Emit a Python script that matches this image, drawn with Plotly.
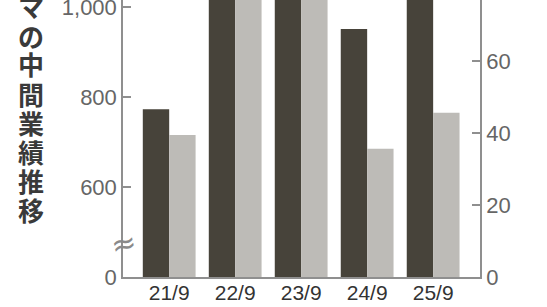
import plotly.graph_objects as go

categories = ["21/9", "22/9", "23/9", "24/9", "25/9"]
dark_values = [773, 1120, 1150, 951, 1180]      # left axis (broken scale)
gray_values = [39.4, 90, 92, 35.6, 45.6]        # right axis

left_tickvals = [400, 600, 800, 1000]
left_ticktext = ["0", "600", "800", "1,000"]
right_tickvals = [0, 20, 40, 60]
right_ticktext = ["0", "20", "40", "60"]

title_chars = list("マの中間業績推移")

W, H = 547, 307
L, R, T, B = 123, 67, 0, 30
PW, PH = W - L - R, H - T - B

NUM_FONT = "Liberation Sans Narrow, Liberation Sans, Arial, sans-serif"
AXIS_COLOR = "#8f8f8f"

fig = go.Figure()
fig.add_trace(go.Bar(
    x=categories, y=dark_values, yaxis="y",
    marker=dict(color="#47433a", line=dict(width=0)),
    width=0.4, offset=-0.4, showlegend=False,
))
fig.add_trace(go.Bar(
    x=categories, y=gray_values, yaxis="y2",
    marker=dict(color="#bdbbb7", line=dict(width=0)),
    width=0.4, offset=0.0, showlegend=False,
))

annotations = []
for i, ch in enumerate(title_chars):
    ypx = 6 + 29 * i
    annotations.append(dict(
        text=ch, xref="paper", yref="paper",
        x=(31 - L) / PW, y=(T + PH - ypx) / PH,
        xanchor="center", yanchor="middle", showarrow=False,
        font=dict(family="Noto Sans CJK JP", size=26, color="#3a3a3a", weight="bold"),
    ))
annotations.append(dict(
    text="≈", xref="paper", yref="paper", x=0, y=(T + PH - 243) / PH,
    xanchor="center", yanchor="middle", showarrow=False, textangle=-12,
    font=dict(family="DejaVu Sans", size=30, color="#8a8a8a"),
))

fig.update_layout(
    width=W, height=H,
    margin=dict(l=L, r=R, t=T, b=B, pad=0, autoexpand=False),
    paper_bgcolor="white", plot_bgcolor="white",
    barmode="group",
    xaxis=dict(
        type="category", range=[-0.70, 4.71], automargin=False,
        showline=True, linecolor=AXIS_COLOR, linewidth=1.5,
        ticks="", showgrid=False, zeroline=False, ticklabelstandoff=-4,
        tickfont=dict(family=NUM_FONT, size=21, color="#333333"),
    ),
    yaxis=dict(
        range=[400, 1015.6], tickvals=left_tickvals, ticktext=left_ticktext,
        automargin=False,
        showline=True, linecolor=AXIS_COLOR, linewidth=1.5,
        ticks="inside", ticklen=8, tickwidth=1.5, tickcolor=AXIS_COLOR,
        showgrid=False, zeroline=False, ticklabeloverflow="allow",
        tickfont=dict(family=NUM_FONT, size=22, color="#666666"),
    ),
    yaxis2=dict(
        overlaying="y", side="right", automargin=False,
        range=[0, 76.9], tickvals=right_tickvals, ticktext=right_ticktext,
        showline=True, linecolor=AXIS_COLOR, linewidth=1.5,
        ticks="inside", ticklen=8, tickwidth=1.5, tickcolor=AXIS_COLOR,
        showgrid=False, zeroline=False, ticklabeloverflow="allow",
        tickfont=dict(family=NUM_FONT, size=22, color="#666666"),
    ),
    annotations=annotations,
)

fig.write_html("out.html")
